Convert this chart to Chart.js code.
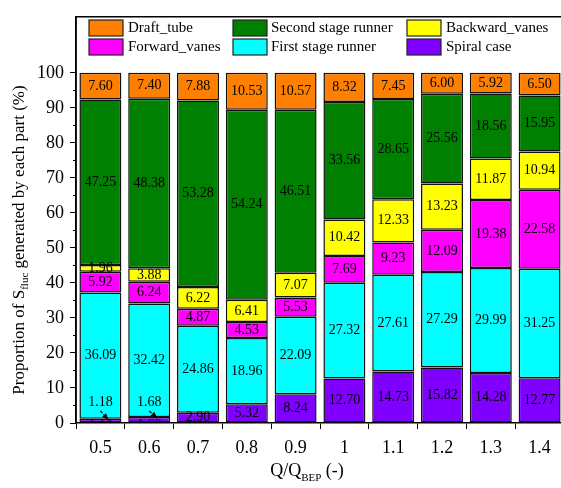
<!DOCTYPE html>
<html>
<head>
<meta charset="utf-8">
<script src="https://cdn.jsdelivr.net/npm/chart.js@4/dist/chart.umd.min.js"></script>
<style>
body { margin: 0; background: #fff; overflow: hidden; }
#wrap { width: 561px; height: 488px; overflow: hidden; }
</style>
</head>
<body>
<div id="wrap"><canvas id="chart" width="570" height="488"></canvas></div>
<script>
const flowRates = ['0.5', '0.6', '0.7', '0.8', '0.9', '1', '1.1', '1.2', '1.3', '1.4'];
const spiralCase = [1.18, 1.68, 2.90, 5.32, 8.24, 12.70, 14.73, 15.82, 14.28, 12.77];
const firstStageRunner = [36.09, 32.42, 24.86, 18.96, 22.09, 27.32, 27.61, 27.29, 29.99, 31.25];
const forwardVanes = [5.92, 6.24, 4.87, 4.53, 5.53, 7.69, 9.23, 12.09, 19.38, 22.58];
const backwardVanes = [1.96, 3.88, 6.22, 6.41, 7.07, 10.42, 12.33, 13.23, 11.87, 10.94];
const secondStageRunner = [47.25, 48.38, 53.28, 54.24, 46.51, 33.56, 28.65, 25.56, 18.56, 15.95];
const draftTube = [7.60, 7.40, 7.88, 10.53, 10.57, 8.32, 7.45, 6.00, 5.92, 6.50];
const yTicks = [0, 10, 20, 30, 40, 50, 60, 70, 80, 90, 100];

const SERIF = '"Liberation Serif", "Times New Roman", serif';

function makeSet(label, data, color) {
    return {
        label: label,
        data: data,
        backgroundColor: color,
        borderColor: '#111',
        borderWidth: 1.5,
        borderSkipped: false,
        categoryPercentage: 1,
        barPercentage: 0.86,
    };
}

const datasets = [
    makeSet('Spiral case', spiralCase, '#7f00ff'),
    makeSet('First stage runner', firstStageRunner, '#00ffff'),
    makeSet('Forward_vanes', forwardVanes, '#ff00ff'),
    makeSet('Backward_vanes', backwardVanes, '#ffff00'),
    makeSet('Second stage runner', secondStageRunner, '#008000'),
    makeSet('Draft_tube', draftTube, '#ff8000'),
];

// legend order as in the figure: row by row
const legendOrder = [5, 4, 3, 2, 1, 0];

const decorations = {
    id: 'decorations',
    afterDatasetsDraw(chart) {
        const ctx = chart.ctx;
        const area = chart.chartArea;
        const yScale = chart.scales.y;
        ctx.save();
        ctx.fillStyle = '#000';
        ctx.textAlign = 'center';
        ctx.textBaseline = 'middle';
        ctx.font = '14px ' + SERIF;
        chart.data.datasets.forEach((ds, i) => {
            const meta = chart.getDatasetMeta(i);
            meta.data.forEach((bar, j) => {
                const v = ds.data[j];
                const txt = v.toFixed(2);
                const cy = (bar.y + bar.base) / 2;
                if (i === 0 && v < 2) {
                    // hidden label under the axis, plus callout above
                    ctx.save();
                    ctx.beginPath();
                    ctx.rect(area.left, area.top, area.right - area.left, area.bottom - area.top);
                    ctx.clip();
                    ctx.fillText(txt, bar.x, cy + 6);
                    ctx.restore();
                    const ly = yScale.getPixelForValue(6);
                    ctx.fillText(txt, bar.x, ly);
                    const x0 = bar.x, y0 = ly + 9;
                    const x1 = bar.x + 8, y1 = bar.y + 1;
                    ctx.strokeStyle = '#000';
                    ctx.lineWidth = 1.2;
                    ctx.setLineDash([3, 1.5]);
                    ctx.beginPath();
                    ctx.moveTo(x0, y0);
                    ctx.lineTo(x1, y1);
                    ctx.stroke();
                    ctx.setLineDash([]);
                    const ang = Math.atan2(y1 - y0, x1 - x0);
                    ctx.beginPath();
                    ctx.moveTo(x1, y1);
                    ctx.lineTo(x1 - 7 * Math.cos(ang - 0.4), y1 - 7 * Math.sin(ang - 0.4));
                    ctx.lineTo(x1 - 7 * Math.cos(ang + 0.4), y1 - 7 * Math.sin(ang + 0.4));
                    ctx.closePath();
                    ctx.fill();
                } else {
                    ctx.fillText(txt, bar.x, cy);
                }
            });
        });
        ctx.restore();
    },
    afterDraw(chart) {
        const ctx = chart.ctx;
        const area = chart.chartArea;
        const yScale = chart.scales.y;
        ctx.save();
        // frame
        ctx.strokeStyle = '#000';
        ctx.lineWidth = 1.5;
        ctx.beginPath();
        ctx.moveTo(area.left, area.bottom);
        ctx.lineTo(area.left, area.top);
        ctx.lineTo(area.right, area.top);
        ctx.lineTo(area.right, area.bottom);
        ctx.stroke();
        // minor ticks on y
        ctx.lineWidth = 1;
        for (let v = 5; v < 100; v += 10) {
            const y = Math.round(yScale.getPixelForValue(v)) + 0.5;
            ctx.beginPath();
            ctx.moveTo(area.left - 3, y);
            ctx.lineTo(area.left, y);
            ctx.stroke();
        }
        // legend
        const cols = [[89, 128], [233, 271], [407, 446]];
        const rows = [20, 39];
        ctx.font = '15px ' + SERIF;
        ctx.textAlign = 'left';
        ctx.textBaseline = 'middle';
        legendOrder.forEach((idx, k) => {
            const ds = chart.data.datasets[idx];
            const c = cols[k % 3];
            const r = rows[Math.floor(k / 3)];
            ctx.fillStyle = ds.backgroundColor;
            ctx.fillRect(c[0], r, 34, 16);
            ctx.strokeStyle = '#222';
            ctx.lineWidth = 1.2;
            ctx.strokeRect(c[0], r, 34, 16);
            ctx.fillStyle = '#000';
            ctx.fillText(ds.label, c[1], r + 8);
        });
        // y title with subscript
        ctx.save();
        ctx.translate(18, 240);
        ctx.rotate(-Math.PI / 2);
        const big = '17px ' + SERIF, small = '11px ' + SERIF;
        const p1 = 'Proportion of S', p2 = 'fluc', p3 = ' generated by each part (%)';
        ctx.font = big;
        const w1 = ctx.measureText(p1).width, w3 = ctx.measureText(p3).width;
        ctx.font = small;
        const w2 = ctx.measureText(p2).width;
        let x = -(w1 + w2 + w3) / 2;
        ctx.textBaseline = 'alphabetic';
        ctx.font = big;
        ctx.fillText(p1, x, 6);
        x += w1;
        ctx.font = small;
        ctx.fillText(p2, x, 10);
        x += w2;
        ctx.font = big;
        ctx.fillText(p3, x, 6);
        ctx.restore();
        // x title with subscript
        const q1 = 'Q/Q', q2 = 'BEP', q3 = ' (-)';
        const bigX = '18px ' + SERIF, smallX = '11px ' + SERIF;
        ctx.font = bigX;
        const a1 = ctx.measureText(q1).width, a3 = ctx.measureText(q3).width;
        ctx.font = smallX;
        const a2 = ctx.measureText(q2).width;
        let xx = 307 - (a1 + a2 + a3) / 2;
        ctx.textBaseline = 'alphabetic';
        ctx.font = bigX;
        ctx.fillText(q1, xx, 476);
        xx += a1;
        ctx.font = smallX;
        ctx.fillText(q2, xx, 481);
        xx += a2;
        ctx.font = bigX;
        ctx.fillText(q3, xx, 476);
        ctx.restore();
    }
};

new Chart(document.getElementById('chart'), {
    type: 'bar',
    data: { labels: flowRates, datasets: datasets },
    plugins: [decorations],
    options: {
        responsive: false,
        animation: false,
        layout: { padding: { top: 9, right: 6, left: 0, bottom: 0 } },
        plugins: { legend: { display: false }, tooltip: { enabled: false } },
        scales: {
            x: {
                stacked: true,
                grid: { drawOnChartArea: false, tickLength: 6, color: '#000', lineWidth: 1 },
                border: { color: '#000', width: 1.5 },
                ticks: { color: '#000', font: { family: SERIF, size: 18 }, padding: 8 },
                afterFit(scale) { scale.height = 65; },
            },
            y: {
                stacked: true,
                min: 0,
                max: 116,
                afterBuildTicks(scale) { scale.ticks = yTicks.map(v => ({ value: v })); },
                grid: { drawOnChartArea: false, tickLength: 6, color: '#000', lineWidth: 1 },
                border: { color: '#000', width: 1.5 },
                ticks: { color: '#000', font: { family: SERIF, size: 18 }, padding: 6 },
                afterFit(scale) { scale.width = 76; },
            }
        }
    }
});
</script>
</body>
</html>
